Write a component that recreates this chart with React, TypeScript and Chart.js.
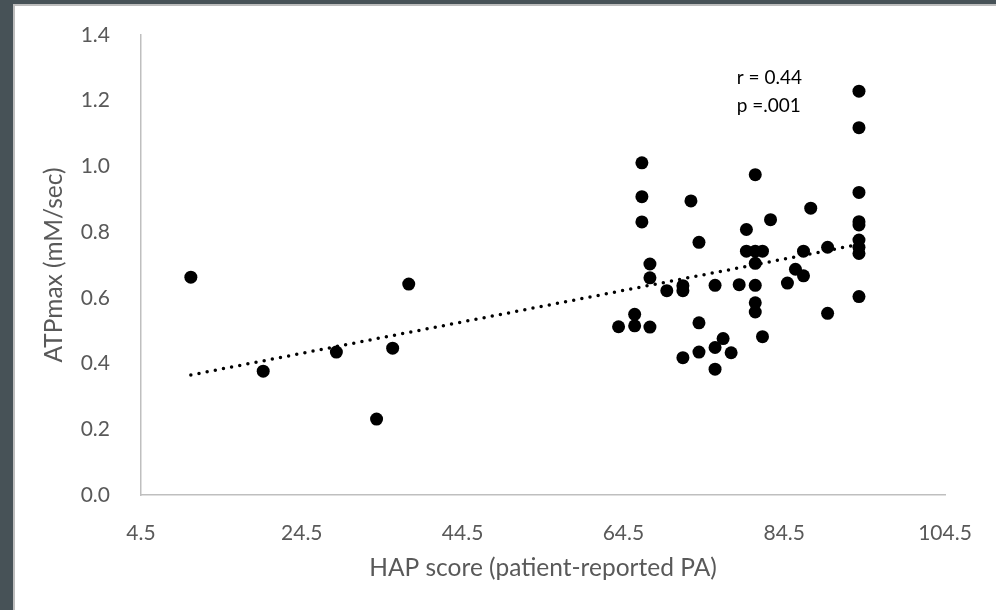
import React, { useEffect, useRef } from "react";
import { Chart, registerables } from "chart.js";

Chart.register(...registerables);

// HAP score (x) and ATPmax (y)
const hapScores = [
  10.7, 19.7, 28.8, 33.8, 35.8, 37.8,
  63.9, 65.9, 65.9, 66.8, 66.8, 66.8, 67.8, 67.8, 67.8, 69.9,
  71.9, 71.9, 71.9, 72.9, 73.9, 73.9, 73.9, 75.9, 75.9, 75.9,
  76.9, 77.9, 78.9, 79.8, 79.8, 80.9, 80.9, 80.9, 80.9, 80.9, 80.9,
  81.8, 81.8, 82.8, 84.9, 85.9, 86.9, 86.9, 87.8, 89.9, 89.9,
  93.8, 93.8, 93.8, 93.8, 93.8, 93.8, 93.8, 93.8, 93.8,
];
const atpMax = [
  0.663, 0.377, 0.435, 0.231, 0.447, 0.642,
  0.512, 0.515, 0.55, 1.011, 0.908, 0.831, 0.703, 0.661, 0.511, 0.622,
  0.637, 0.622, 0.418, 0.895, 0.769, 0.524, 0.435, 0.638, 0.449, 0.383,
  0.476, 0.433, 0.64, 0.808, 0.742, 0.975, 0.742, 0.705, 0.638, 0.585, 0.557,
  0.742, 0.482, 0.838, 0.645, 0.687, 0.742, 0.667, 0.873, 0.754, 0.553,
  1.229, 1.118, 0.921, 0.832, 0.822, 0.776, 0.754, 0.735, 0.604,
];

const xTicks = [4.5, 24.5, 44.5, 64.5, 84.5, 104.5];
const yTicks = [0, 0.2, 0.4, 0.6, 0.8, 1.0, 1.2, 1.4];
const xTitle = "HAP score (patient-reported PA)";
const yTitle = "ATPmax (mM/sec)";
const statLines = ["r = 0.44", "p =.001"];
const statX = 78.6;
const statY = [1.27, 1.185];

function regression(xs: number[], ys: number[]) {
  const n = xs.length;
  const mx = xs.reduce((a, b) => a + b, 0) / n;
  const my = ys.reduce((a, b) => a + b, 0) / n;
  let sxy = 0;
  let sxx = 0;
  for (let i = 0; i < n; i++) {
    sxy += (xs[i] - mx) * (ys[i] - my);
    sxx += (xs[i] - mx) * (xs[i] - mx);
  }
  const slope = sxy / sxx;
  return { slope, intercept: my - slope * mx };
}

const FONT = "Lato, 'Open Sans', sans-serif";
const GREY = "#595959";

export default function App() {
  const ref = useRef<HTMLCanvasElement | null>(null);

  useEffect(() => {
    if (!ref.current) return;
    const { slope, intercept } = regression(hapScores, atpMax);
    const minX = Math.min(...hapScores);
    const maxX = Math.max(...hapScores);
    const trend = [
      { x: minX, y: intercept + slope * minX },
      { x: maxX, y: intercept + slope * maxX },
    ];
    const points = hapScores.map((x, i) => ({ x, y: atpMax[i] }));

    const statPlugin = {
      id: "stats",
      afterDatasetsDraw(chart: any) {
        const { ctx, scales } = chart;
        ctx.save();
        ctx.font = `19px ${FONT}`;
        ctx.fillStyle = "#000";
        ctx.textAlign = "left";
        ctx.textBaseline = "middle";
        statLines.forEach((t, i) => {
          ctx.fillText(t, scales.x.getPixelForValue(statX), scales.y.getPixelForValue(statY[i]));
        });
        ctx.restore();
      },
    };

    const chart = new Chart(ref.current, {
      type: "scatter",
      data: {
        datasets: [
          {
            type: "line",
            data: trend,
            borderColor: "#000",
            borderWidth: 3.5,
            borderDash: [0, 8.3],
            borderCapStyle: "round",
            pointRadius: 0,
            fill: false,
          } as any,
          {
            data: points,
            backgroundColor: "#000",
            borderWidth: 0,
            pointRadius: 6.5,
            pointHoverRadius: 6.5,
          },
        ],
      },
      options: {
        responsive: false,
        animation: false,
        events: [],
        layout: { padding: { top: 35, right: 51, left: 0, bottom: 0 } },
        plugins: { legend: { display: false }, tooltip: { enabled: false } },
        scales: {
          x: {
            type: "linear",
            min: 4.5,
            max: 104.5,
            grid: { display: false },
            border: { color: "#bfbfbf", width: 1.5 },
            afterBuildTicks: (s: any) => {
              s.ticks = xTicks.map((v) => ({ value: v }));
            },
            afterFit: (s: any) => {
              s.height = 115;
              s.paddingLeft = 0;
              s.paddingRight = 0;
            },
            ticks: {
              padding: 18,
              color: GREY,
              font: { family: FONT, size: 21 },
              callback: (v: any) => Number(v).toFixed(1),
            },
            title: {
              display: true,
              text: xTitle,
              color: GREY,
              font: { family: FONT, size: 24.5 },
              padding: { top: 0, bottom: 27 },
            },
          },
          y: {
            type: "linear",
            min: 0,
            max: 1.4,
            grid: { display: false },
            border: { color: "#bfbfbf", width: 1.5 },
            afterBuildTicks: (s: any) => {
              s.ticks = yTicks.map((v) => ({ value: v }));
            },
            afterFit: (s: any) => {
              s.width = 141;
              s.paddingTop = 0;
              s.paddingBottom = 0;
            },
            ticks: {
              padding: 23,
              color: GREY,
              font: { family: FONT, size: 21 },
              callback: (v: any) => Number(v).toFixed(1),
            },
            title: {
              display: true,
              text: yTitle,
              color: GREY,
              font: { family: FONT, size: 24.5 },
              padding: { top: 39, bottom: 0 },
            },
          },
        },
      },
      plugins: [statPlugin],
    });
    return () => chart.destroy();
  }, []);

  return (
    <div style={{ position: "absolute", left: 0, top: 0, width: 996, height: 610, background: "#475257", overflow: "hidden" }}>
      <div
        style={{
          position: "absolute",
          left: 13,
          top: 4,
          right: 0,
          bottom: 0,
          background: "#fff",
          borderLeft: "2px solid #bdbdbd",
          borderTop: "2px solid #bdbdbd",
        }}
      />
      <canvas ref={ref} width={996} height={610} style={{ position: "absolute", left: 0, top: 0, width: 996, height: 610 }} />
    </div>
  );
}
